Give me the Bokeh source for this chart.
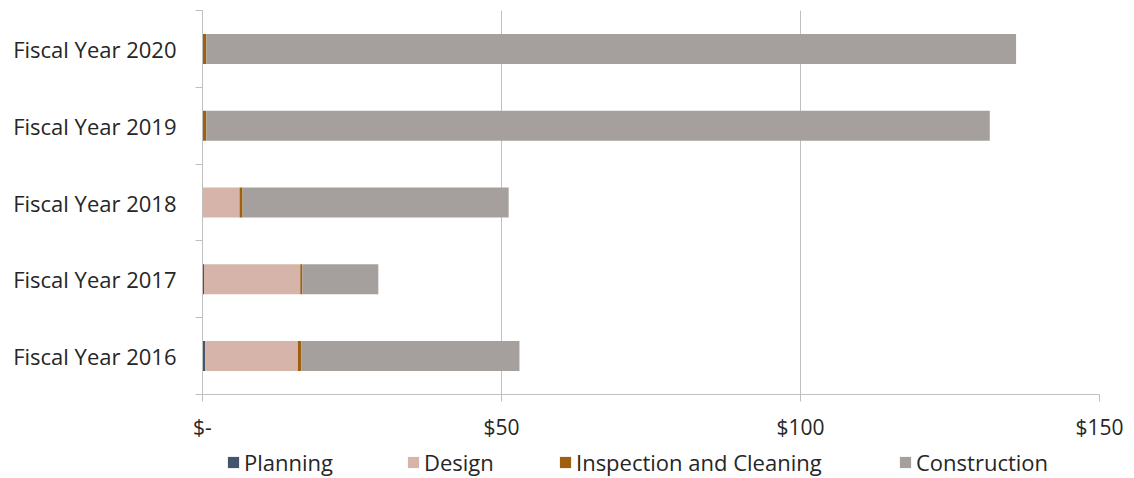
from bokeh.plotting import figure
from bokeh.layouts import column
from bokeh.models import ColumnDataSource, Range1d, FixedTicker, Legend, LegendItem
from bokeh.embed import file_html
from bokeh.resources import INLINE

# Spending by phase (millions of dollars), bottom to top
years = ["Fiscal Year 2016", "Fiscal Year 2017", "Fiscal Year 2018",
         "Fiscal Year 2019", "Fiscal Year 2020"]
planning = [0.45, 0.25, 0.0, 0.0, 0.0]
design = [15.5, 16.1, 6.2, 0.0, 0.0]
inspection = [0.55, 0.35, 0.5, 0.65, 0.65]
construction = [36.5, 12.7, 44.5, 131.0, 135.4]

phases = ["Planning", "Design", "Inspection and Cleaning", "Construction"]
colors = ["#44546A", "#D6B4AA", "#9E5F0E", "#A5A09D"]
x_ticks = [0, 50, 100, 150]
x_tick_labels = ["$-", "$50", "$100", "$150"]

FONT = "Open Sans"
TEXT_COLOR = "#262626"
GRID_COLOR = "#BFBFBF"

positions = [i + 0.5 for i in range(len(years))]
source = ColumnDataSource(dict(
    y=positions,
    Planning=planning,
    Design=design,
    **{"Inspection and Cleaning": inspection},
    Construction=construction,
))

p = figure(width=1134, height=443, output_backend="svg", toolbar_location=None,
           x_range=Range1d(0, 150), y_range=Range1d(0, len(years)),
           min_border_left=202, min_border_right=35, min_border_top=10,
           min_border_bottom=48)
p.outline_line_color = None
p.background_fill_color = "white"
p.border_fill_color = "white"

p.hbar_stack(phases, y="y", height=0.39, color=colors, source=source, line_color=None)

# x axis
p.xaxis.ticker = FixedTicker(ticks=x_ticks)
p.xaxis.major_label_overrides = {t: s for t, s in zip(x_ticks, x_tick_labels)}
p.xaxis.axis_line_color = GRID_COLOR
p.xaxis.major_tick_line_color = GRID_COLOR
p.xaxis.major_tick_out = 7
p.xaxis.major_tick_in = 0
p.xaxis.minor_tick_line_color = None
p.xaxis.major_label_standoff = 11
p.xaxis.major_label_text_font = FONT
p.xaxis.major_label_text_font_size = "21px"
p.xaxis.major_label_text_color = TEXT_COLOR

# y axis: labels at bar centres, tick marks between categories
p.yaxis.ticker = FixedTicker(ticks=positions, minor_ticks=list(range(len(years) + 1)))
p.yaxis.major_label_overrides = {pos: name for pos, name in zip(positions, years)}
p.yaxis.axis_line_color = GRID_COLOR
p.yaxis.major_tick_line_color = None
p.yaxis.major_tick_out = 0
p.yaxis.major_tick_in = 0
p.yaxis.minor_tick_line_color = GRID_COLOR
p.yaxis.minor_tick_out = 7
p.yaxis.minor_tick_in = 0
p.yaxis.major_label_standoff = 19
p.yaxis.major_label_text_font = FONT
p.yaxis.major_label_text_font_size = "22px"
p.yaxis.major_label_text_color = TEXT_COLOR

p.ygrid.grid_line_color = None
p.xgrid.ticker = FixedTicker(ticks=x_ticks[1:])
p.xgrid.grid_line_color = GRID_COLOR
p.xgrid.grid_line_width = 1

# legend strip under the chart (its frame lines up with the chart frame)
key = figure(width=1134, height=35, output_backend="svg", toolbar_location=None,
             x_range=Range1d(0, 1), y_range=Range1d(0, 1),
             min_border=0, outline_line_color=None)
key.axis.visible = False
key.grid.visible = False
key.background_fill_color = "white"
key.border_fill_color = "white"

legend_x = [24, 204, 356, 696]
for name, color, lx in zip(phases, colors, legend_x):
    # swatch glyph kept outside the visible range; only its legend entry shows
    swatch = key.rect(x=[-5], y=[-5], width=1, height=1, color=color, line_color=None)
    key.add_layout(Legend(items=[LegendItem(label=name, renderers=[swatch])],
                          location=(lx, 1), label_text_font=FONT,
                          label_text_font_size="22px", label_text_color=TEXT_COLOR,
                          glyph_width=14, glyph_height=14, label_standoff=4,
                          border_line_color=None, padding=0, margin=0,
                          background_fill_alpha=0), "center")

open("out.html", "w").write(file_html(column(p, key, spacing=0), INLINE))
